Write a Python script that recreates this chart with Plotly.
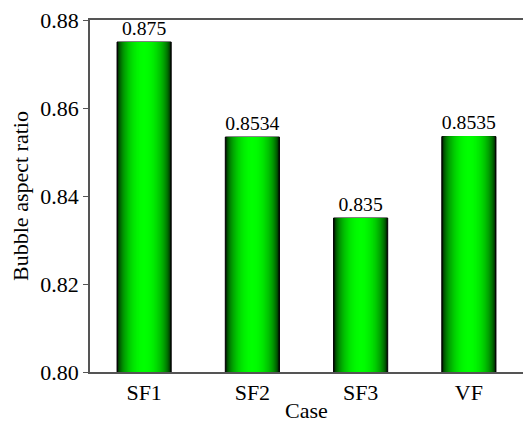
import numpy as np
import plotly.graph_objects as go

cases = ["SF1", "SF2", "SF3", "VF"]
aspect_ratio = [0.875, 0.8534, 0.835, 0.8535]
value_labels = ["0.875", "0.8534", "0.835", "0.8535"]
y_ticks = [0.80, 0.82, 0.84, 0.86, 0.88]
y_tick_labels = ["0.80", "0.82", "0.84", "0.86", "0.88"]

Y_BASE = 0.80
BAR_WIDTH = 0.5
N_LAYERS = 30
FONT = "Liberation Serif"
FS = 22

fig = go.Figure()

# Cylinder-like shading: overlay progressively narrower bars that get brighter
heights = [v - Y_BASE for v in aspect_ratio]
for i in range(N_LAYERS):
    frac = 1 - i / N_LAYERS          # 1 at the outer edge, -> 0 at centre
    w = BAR_WIDTH * frac
    g = np.cos(frac * np.pi / 2) ** 0.5
    color = f"rgb(0,{int(round(255 * g))},0)"
    outer = i == 0
    fig.add_trace(go.Bar(
        x=cases,
        y=heights,
        base=Y_BASE,
        width=[w] * len(cases),
        marker=dict(color=color,
                    line=dict(color="black", width=1 if outer else 0)),
        text=value_labels if outer else None,
        textposition="outside" if outer else "none",
        textfont=dict(family=FONT, size=FS, color="black"),
        cliponaxis=False,
        showlegend=False,
        hoverinfo="skip",
    ))

fig.update_layout(
    width=523, height=423,
    margin=dict(l=90, r=0, t=20, b=51),
    barmode="overlay",
    plot_bgcolor="white",
    paper_bgcolor="white",
    font=dict(family=FONT, size=FS, color="black"),
    uniformtext=dict(minsize=8, mode="show"),
)
fig.update_xaxes(
    range=[-0.5, 3.5],
    showline=True, linecolor="#555555", linewidth=1.5,
    mirror=True, ticks="", showgrid=False,
    title=dict(text="Case", standoff=2, font=dict(family=FONT, size=FS)),
    tickfont=dict(family=FONT, size=FS),
)
fig.update_yaxes(
    range=[0.80, 0.88],
    tickvals=y_ticks,
    ticktext=y_tick_labels,
    showline=True, linecolor="#555555", linewidth=1.5,
    ticks="outside", ticklen=5, tickcolor="#555555",
    showgrid=False, zeroline=False,
    title=dict(text="Bubble aspect ratio", standoff=6,
               font=dict(family=FONT, size=FS)),
    tickfont=dict(family=FONT, size=FS),
)

fig.write_html("out.html")
